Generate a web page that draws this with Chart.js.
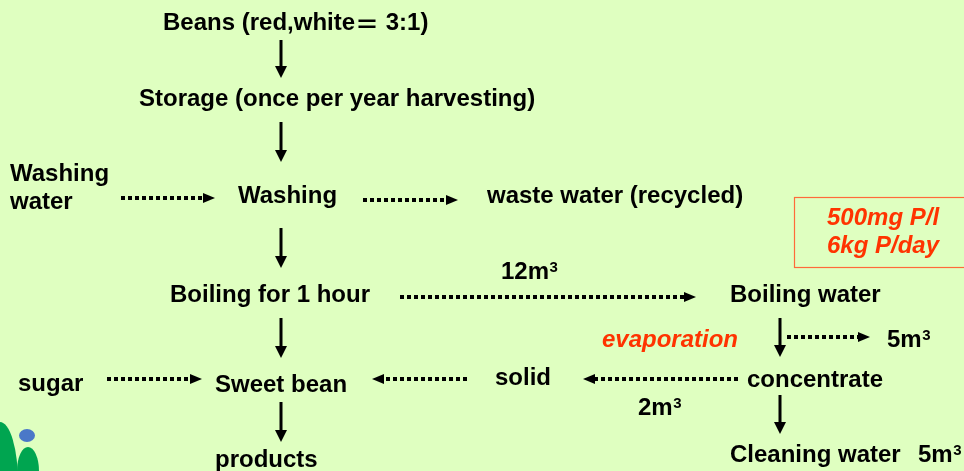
<!DOCTYPE html>
<html>
<head>
<meta charset="utf-8">
<script src="https://cdn.jsdelivr.net/npm/chart.js@4/dist/chart.umd.min.js"></script>
<style>
html,body{margin:0;padding:0;background:#DFFFC0;}
#c{display:block;}
</style>
</head>
<body>
<canvas id="c" width="964" height="471"></canvas>
<script>
// ---- diagram data (in diagram units: x 0..964, y 0..471 top-down) ----
const nodeLabels = ["Beans (red,white\uFF1D 3:1)", "Storage (once per year harvesting)", "Washing", "water",
  "Washing", "waste water (recycled)", "12m\u00B3", "Boiling for 1 hour", "Boiling water",
  "5m\u00B3", "sugar", "Sweet bean", "solid", "concentrate", "2m\u00B3",
  "Cleaning water", "5m\u00B3", "products"];
const nodeX = [163, 139, 10, 10, 238, 487, 501, 170, 730, 887, 18, 215, 495, 747, 638, 730, 918, 215];
const nodeY = [30, 106, 181, 209, 203, 203, 279, 302, 302, 347, 391, 392, 385, 387, 415, 462, 462, 467];

const noteLabels = ["500mg P/l", "6kg P/day", "evaporation"];
const noteX = [827, 827, 602];
const noteY = [225, 253, 347];

// solid arrows: x, yStart, yTip
const solidX = [281, 281, 281, 281, 281, 780, 780];
const solidY1 = [40, 122, 228, 318, 402, 318, 395];
const solidY2 = [78, 162, 268, 358, 442, 357, 434];

// dotted arrows: xStart, xTip, y
const dotX1 = [121, 363, 400, 787, 107, 467, 738];
const dotX2 = [215, 458, 696, 870, 202, 372, 583];
const dotY = [198, 200, 297, 337, 379, 379, 379];

// note box corners
const boxX = [794, 966];
const boxY = [197, 267];

const datasets = [];
solidX.forEach((x, i) => {
  datasets.push({
    data: [{x: x, y: solidY1[i]}, {x: x, y: solidY2[i] - 10}],
    showLine: true, borderColor: '#000', borderWidth: 3, pointRadius: 0,
    tip: {x: x, y: solidY2[i], dir: 'down'}, clip: false
  });
});
dotX1.forEach((x1, i) => {
  const x2 = dotX2[i];
  const right = x2 > x1;
  datasets.push({
    data: [{x: x1, y: dotY[i]}, {x: right ? x2 - 12 : x2 + 12, y: dotY[i]}],
    showLine: true, borderColor: '#000', borderWidth: 4, borderDash: [4, 3],
    borderCapStyle: 'butt', pointRadius: 0,
    tip: {x: x2, y: dotY[i], dir: right ? 'right' : 'left'}, clip: false
  });
});

const MAIN_FONT = 'bold 24px "Liberation Sans", Arial, "Noto Sans CJK JP", sans-serif';
const SUP_FONT = 'bold 15px "Liberation Sans", Arial, sans-serif';

function drawRuns(c, s, X, Y) {
  // draw text; full-width '=' is lowered to sit on the Latin midline
  let x = X;
  const parts = s.split(/(\uFF1D)/);
  parts.forEach(p => {
    if (!p) return;
    const dy = p === '\uFF1D' ? 3 : 0;
    c.fillText(p, x, Y + dy);
    x += c.measureText(p).width;
  });
  return x;
}

const diagramPlugin = {
  id: 'diagram',
  beforeDraw(chart) {
    const c = chart.ctx;
    c.save();
    c.fillStyle = '#DFFFC0';
    c.fillRect(0, 0, chart.width, chart.height);
    c.restore();
  },
  afterDatasetsDraw(chart) {
    const c = chart.ctx, xs = chart.scales.x, ys = chart.scales.y;
    const px = v => xs.getPixelForValue(v), py = v => ys.getPixelForValue(v);
    c.save();
    // arrow heads
    c.fillStyle = '#000';
    chart.data.datasets.forEach(ds => {
      const t = ds.tip; if (!t) return;
      const X = px(t.x), Y = py(t.y);
      c.beginPath();
      if (t.dir === 'down') { c.moveTo(X, Y); c.lineTo(X - 6, Y - 12); c.lineTo(X + 6, Y - 12); }
      else if (t.dir === 'right') { c.moveTo(X, Y); c.lineTo(X - 12, Y - 5); c.lineTo(X - 12, Y + 5); }
      else { c.moveTo(X, Y); c.lineTo(X + 12, Y - 5); c.lineTo(X + 12, Y + 5); }
      c.closePath(); c.fill();
    });
    // labels
    c.textAlign = 'left'; c.textBaseline = 'alphabetic';
    c.fillStyle = '#000';
    nodeLabels.forEach((s, i) => {
      const X = px(nodeX[i]), Y = py(nodeY[i]);
      c.font = MAIN_FONT;
      if (s.endsWith('\u00B3')) {
        const base = s.slice(0, -1);
        c.fillText(base, X, Y);
        const w = c.measureText(base).width;
        c.font = SUP_FONT;
        c.fillText('3', X + w + 0.5, Y - 7);
      } else {
        drawRuns(c, s, X, Y);
      }
    });
    // red notes
    c.font = 'italic bold 24px "Liberation Sans", Arial, sans-serif';
    c.fillStyle = '#FF3300';
    noteLabels.forEach((s, i) => c.fillText(s, px(noteX[i]), py(noteY[i])));
    // box
    c.strokeStyle = '#FF6A3A'; c.lineWidth = 1.2;
    c.strokeRect(px(boxX[0]) + 0.5, py(boxY[0]) + 0.5, px(boxX[1]) - px(boxX[0]), py(boxY[1]) - py(boxY[0]));
    // corner decoration
    c.fillStyle = '#00A550';
    c.beginPath(); c.ellipse(px(0), py(482), 18, 60, 0, 0, Math.PI * 2); c.fill();
    c.beginPath(); c.ellipse(px(28), py(471), 11, 24, 0, 0, Math.PI * 2); c.fill();
    c.fillStyle = '#4A78C8';
    c.beginPath(); c.ellipse(px(27), py(435.5), 8, 6.5, 0, 0, Math.PI * 2); c.fill();
    c.restore();
  }
};

new Chart(document.getElementById('c'), {
  type: 'scatter',
  data: {datasets: datasets},
  options: {
    responsive: false, animation: false, devicePixelRatio: 1,
    layout: {padding: 0},
    plugins: {legend: {display: false}, tooltip: {enabled: false}},
    scales: {
      x: {type: 'linear', min: 0, max: 964, display: false},
      y: {type: 'linear', min: 0, max: 471, reverse: true, display: false}
    }
  },
  plugins: [diagramPlugin]
});
</script>
</body>
</html>
